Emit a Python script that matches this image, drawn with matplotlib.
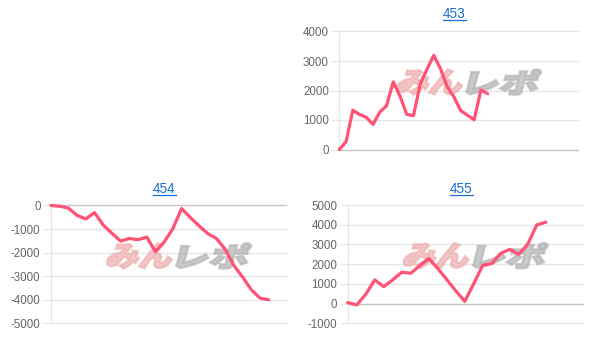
import matplotlib
matplotlib.use('Agg')
import matplotlib.pyplot as plt
from matplotlib.font_manager import FontProperties
from matplotlib.textpath import TextPath
from matplotlib.patches import PathPatch
from matplotlib.lines import Line2D
from matplotlib.transforms import Affine2D, IdentityTransform

plt.rcParams['font.family'] = ['Liberation Sans', 'DejaVu Sans']

# ---- data ----
titles = ['453', '454', '455']
vals_453 = [0, 260, 1330, 1190, 1090, 850, 1270, 1480, 2290, 1810, 1190, 1150,
            2220, 2720, 3190, 2740, 2130, 1780, 1320, 1160, 1010, 2020, 1890]
vals_454 = [0, -30, -110, -420, -570, -300, -830, -1180, -1510, -1400, -1450,
            -1340, -1960, -1550, -980, -130, -510, -860, -1190, -1400, -1850,
            -2540, -3030, -3570, -3930, -4000]
vals_455 = [50, -70, 470, 1200, 860, 1200, 1590, 1540, 1920, 2290, 1780, 1220,
            650, 110, 1010, 1940, 2030, 2550, 2750, 2500, 3020, 3990, 4130]
yticks_453 = [0, 1000, 2000, 3000, 4000]
yticks_454 = [-5000, -4000, -3000, -2000, -1000, 0]
yticks_455 = [-1000, 0, 1000, 2000, 3000, 4000, 5000]

W, H = 607, 345
fig = plt.figure(figsize=(W / 100, H / 100), dpi=100)

LINE = '#ff5274'
GRID = '#e6e6e6'
ZERO = '#c4c4c4'
TICKC = '#666666'
LINK = '#1a6ed8'

# panel layout in pixels: left, top, right, bottom, x span, title baseline
panels = [
    (vals_453, yticks_453, titles[0], (339.3, 31.5, 577.7, 149.5), 35.35, 18.3),
    (vals_454, yticks_454, titles[1], (51.0, 205.5, 286.0, 323.3), 27.0, 193.3),
    (vals_455, yticks_455, titles[2], (347.7, 205.0, 582.7, 323.3), 26.1, 193.3),
]

fp_wm = FontProperties(family='Noto Sans CJK JP', weight='black')


def watermark(ax, cx, cy):
    # "みんレポ" logo, pink + gray, slanted
    parts = [('みん', '#eeb0b0', cx - 71, 64), ('レポ', '#b4b4b4', cx - 1, 70)]
    for s, col, x0, w in parts:
        tp = TextPath((0, 0), s, size=1, prop=fp_wm)
        ext = tp.get_extents()
        tr = (Affine2D().translate(-ext.x0, -ext.y0)
              .scale(w / ext.width, 25 / ext.height)
              .skew_deg(14, 0)
              .translate(x0 - 3, H - cy - 12.5))
        patch = PathPatch(tr.transform_path(tp), facecolor=col, edgecolor=col,
                          lw=1.8, alpha=0.7, transform=IdentityTransform(),
                          zorder=1.5)
        ax.add_artist(patch)


title_texts = []
for vals, yt, title, (l, t, r, b), xspan, tb in panels:
    ax = fig.add_axes([l / W, 1 - b / H, (r - l) / W, (b - t) / H])
    xs = list(range(len(vals)))
    ax.plot(xs, vals, color=LINE, lw=2.3, solid_joinstyle='round',
            solid_capstyle='round', zorder=3, clip_on=False)
    ax.set_xlim(0, xspan)
    ax.set_ylim(yt[0], yt[-1])
    ax.set_yticks(yt)
    ax.set_yticklabels([str(v) for v in yt])
    ax.set_xticks([])
    for v in yt:
        ax.axhline(v, color=ZERO if v == 0 else GRID, lw=1, zorder=1, clip_on=False)
    for sp in ['top', 'right', 'bottom']:
        ax.spines[sp].set_visible(False)
    ax.spines['left'].set_color(GRID)
    ax.spines['left'].set_linewidth(1)
    ax.tick_params(axis='y', length=5.5, width=0.8, color=GRID, pad=2,
                   labelsize=8.3, labelcolor=TICKC)
    watermark(ax, (l + r) / 2 + 11, (t + b) / 2 - 8.5)
    tx = fig.text(((l + r) / 2 - 4) / W, 1 - tb / H, title, ha='center',
                  va='baseline', fontsize=9.8, color=LINK)
    title_texts.append((tx, tb))

fig.canvas.draw()
renderer = fig.canvas.get_renderer()
for tx, tb in title_texts:
    bb = tx.get_window_extent(renderer)
    yline = H - tb - 1.8
    fig.add_artist(Line2D([bb.x0, bb.x1], [yline, yline], color=LINK, lw=0.9,
                          transform=IdentityTransform()))

fig.savefig('out.png', dpi=100)
